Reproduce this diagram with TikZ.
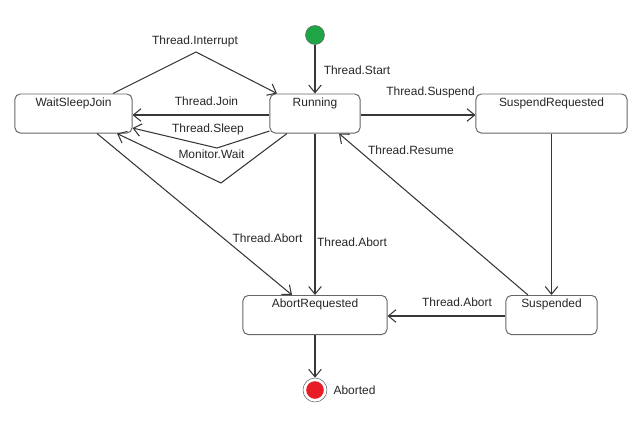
\documentclass[tikz,border=0pt]{standalone}
\usepackage{fontspec}
\setmainfont{Liberation Sans}
\usepackage{tikz}
\usetikzlibrary{positioning,arrows.meta}
\definecolor{startgreen}{RGB}{30,165,70}
\definecolor{abortred}{RGB}{232,28,36}
\definecolor{edgegray}{RGB}{55,55,55}

\begin{document}
\begin{tikzpicture}[x=0.025cm,y=-0.025cm,
    font=\fontsize{8.5}{10}\selectfont,text=black!85,
    statebox/.style={draw=black!60,rounded corners=0.13cm,line width=0.7pt,
      inner ysep=0pt,text height=0.3cm,text depth=0.675cm},
    trans/.style={draw=edgegray,line width=0.75pt,-{Straight Barb[length=5.5pt,width=9pt]}},
    lbl/.style={inner sep=0pt,text height=1.5ex,text depth=.25ex}]
      \useasboundingbox (0,0) rectangle (640,424);

      \node[circle,draw=black!60,fill=startgreen,minimum size=0.475cm,inner sep=0pt] (start) at (315,35) {};
      \node[statebox,minimum width=2.925cm] (wsj) at (73.5,113.5) {WaitSleepJoin};
      \node[statebox,minimum width=2.25cm] (run) at (315,113.5) {Running};
      \node[statebox,minimum width=3.775cm] (susreq) at (551.5,113.5) {SuspendRequested};
      \node[statebox,minimum width=3.6cm] (abreq) at (315,315) {AbortRequested};
      \node[statebox,minimum width=2.275cm] (susp) at (551.5,315) {Suspended};
      \node[circle,draw=black!60,fill=white,minimum size=0.6cm,inner sep=0pt,
        path picture={\fill[abortred] (path picture bounding box.center) circle (0.22cm);}] (stop) at (315,390) {};
      \node[lbl,right=0.15cm of stop] (aborted) {Aborted};

      %start>run
      \draw[trans] (start) -- (run) node[lbl] at (357,69.5) {Thread.Start};
      %wsj>run
      \draw[trans] (wsj.north -| 113,0) -- (196,52) -- (run.north -| 277,0) node[lbl] at (195,39.5) {Thread.Interrupt};
      %run>wsj
      \draw[trans] (run.west |- 0,115) -- (wsj.east |- 0,115) node[lbl] at (206.5,101) {Thread.Join};
      \draw[trans] (run.west |- 0,131) -- (217,148) -- (wsj.east |- 0,128) node[lbl] at (208,127.5) {Thread.Sleep};
      \draw[trans] (run.south -| 287,0) -- (221,183) -- (wsj.south -| 117,0) node[lbl] at (211.5,153.5) {Monitor.Wait};
      %run>susreq>susp
      \draw[trans] (run.east |- 0,115) -- (susreq.west |- 0,115) node[lbl] at (430.5,90.5) {Thread.Suspend};
      \draw[trans] (susreq) -- (susp);
      %susp>run
      \draw[trans] (susp.north -| 528,0) -- (run.south -| 339,0) node[lbl] at (411,149.5) {Thread.Resume};
      %x>abreq
      \draw[trans] (wsj.south -| 97,0) -- (abreq.north -| 292,0) node[lbl] at (267.5,237.5) {Thread.Abort};
      \draw[trans] (run) -- (abreq) node[lbl] at (352,241.5) {Thread.Abort};
      \draw[trans] (susp.west |- 0,316) -- (abreq.east |- 0,316) node[lbl] at (457,301.5) {Thread.Abort};
      %abreq>stop
      \draw[trans] (abreq) -- (stop);
    \end{tikzpicture}
\end{document}
